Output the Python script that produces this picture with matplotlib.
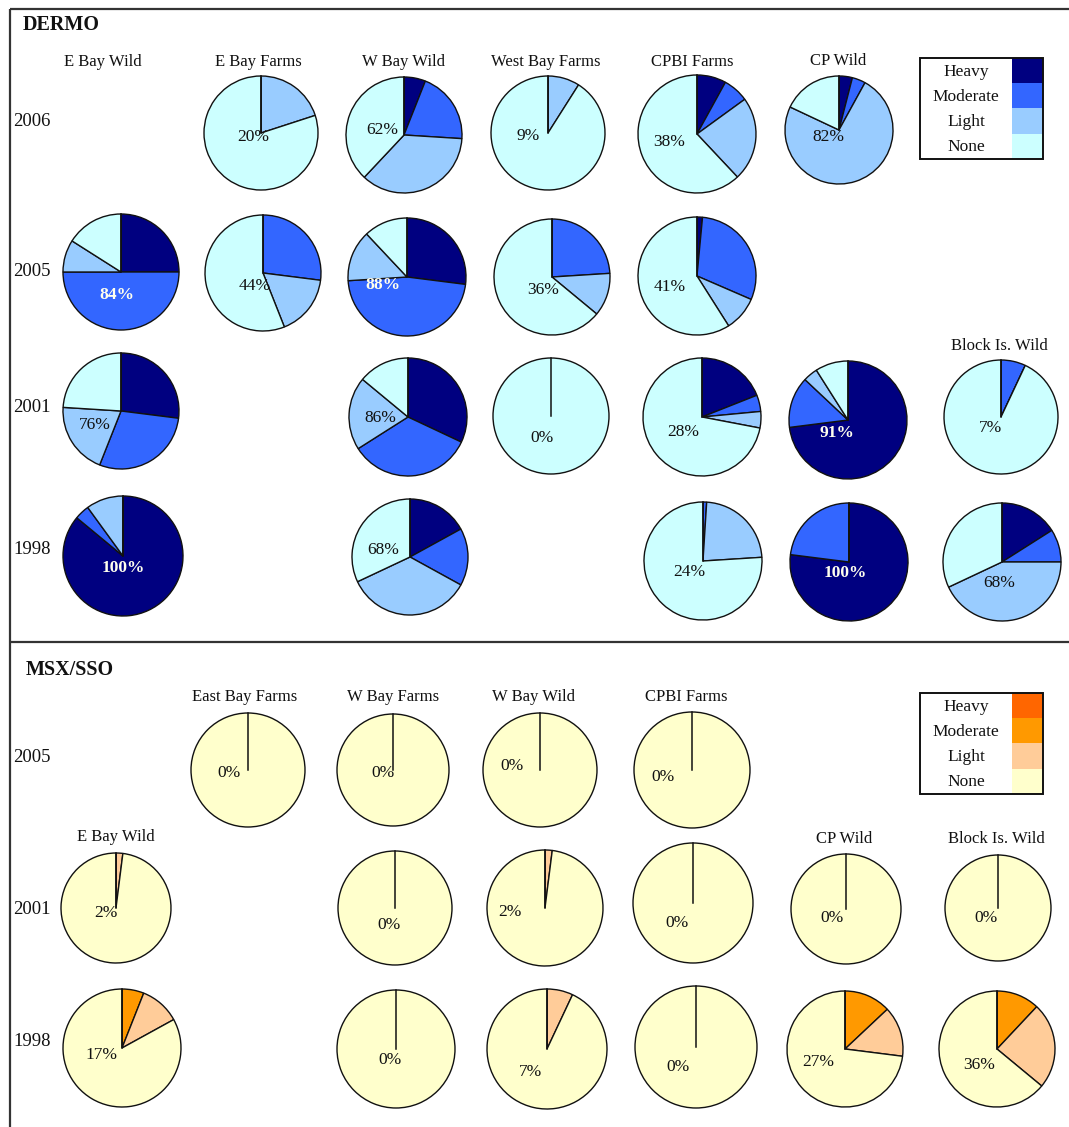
import matplotlib
matplotlib.use("Agg")
import matplotlib.pyplot as plt
from matplotlib.patches import Rectangle

W, H = 1069, 1127
plt.rcParams['font.family'] = ['Liberation Serif', 'DejaVu Serif']

# Infection intensity classes, in the clockwise order of each pie
LEVELS = ["Heavy", "Moderate", "Light", "None"]
DERMO_COLORS = ["#000080", "#3366FF", "#99CCFF", "#CCFFFF"]
MSX_COLORS = ["#FF6600", "#FF9900", "#FFCC99", "#FFFFCC"]

# ---- DERMO: percent of oysters per class [Heavy, Moderate, Light, None] ----
dermo_2006 = {
    "E Bay Farms": [0, 0, 20, 80],
    "W Bay Wild": [6, 20, 36, 38],
    "West Bay Farms": [0, 0, 9, 91],
    "CPBI Farms": [8, 7, 23, 62],
    "CP Wild": [4, 4, 74, 18],
}
dermo_2005 = {
    "E Bay Wild": [25, 50, 9, 16],
    "E Bay Farms": [0, 27, 17, 56],
    "W Bay Wild": [27, 47, 14, 12],
    "West Bay Farms": [0, 24, 12, 64],
    "CPBI Farms": [1.5, 30, 9.5, 59],
}
dermo_2001 = {
    "E Bay Wild": [27, 29, 20, 24],
    "W Bay Wild": [32, 34, 20, 14],
    "West Bay Farms": [0, 0, 0, 100],
    "CPBI Farms": [19, 4.5, 4.5, 72],
    "CP Wild": [73, 14, 4, 9],
    "Block Is. Wild": [0, 7, 0, 93],
}
dermo_1998 = {
    "E Bay Wild": [86, 4, 10, 0],
    "W Bay Wild": [17, 16, 35, 32],
    "CPBI Farms": [0, 1, 23, 76],
    "CP Wild": [77, 23, 0, 0],
    "Block Is. Wild": [16, 9, 43, 32],
}

# ---- MSX/SSO: percent of oysters per class [Heavy, Moderate, Light, None] ----
msx_2005 = {
    "East Bay Farms": [0, 0, 0, 100],
    "W Bay Farms": [0, 0, 0, 100],
    "W Bay Wild": [0, 0, 0, 100],
    "CPBI Farms": [0, 0, 0, 100],
}
msx_2001 = {
    "E Bay Wild": [0, 0, 2, 98],
    "W Bay Farms": [0, 0, 0, 100],
    "W Bay Wild": [0, 0, 2, 98],
    "CPBI Farms": [0, 0, 0, 100],
    "CP Wild": [0, 0, 0, 100],
    "Block Is. Wild": [0, 0, 0, 100],
}
msx_1998 = {
    "E Bay Wild": [0, 6, 11, 83],
    "W Bay Farms": [0, 0, 0, 100],
    "W Bay Wild": [0, 0, 7, 93],
    "CPBI Farms": [0, 0, 0, 100],
    "CP Wild": [0, 13, 14, 73],
    "Block Is. Wild": [0, 12, 24, 64],
}

dermo_years = {"2006": dermo_2006, "2005": dermo_2005, "2001": dermo_2001, "1998": dermo_1998}
msx_years = {"2005": msx_2005, "2001": msx_2001, "1998": msx_1998}

# ---- layout (pixel positions, y measured from the top) ----
# (year, site): (center x, center y, radius, label dx, label dy, label on dark wedge)
dermo_layout = {
    ("2006", "E Bay Farms"): (261, 133, 57, -8, 4, False),
    ("2006", "W Bay Wild"): (404, 135, 58, -22, -5, False),
    ("2006", "West Bay Farms"): (548, 133, 57, -20, 3, False),
    ("2006", "CPBI Farms"): (697, 134, 59, -28, 8, False),
    ("2006", "CP Wild"): (839, 130, 54, -11, 7, False),
    ("2005", "E Bay Wild"): (121, 272, 58, -4, 23, True),
    ("2005", "E Bay Farms"): (263, 273, 58, -8, 13, False),
    ("2005", "W Bay Wild"): (407, 277, 59, -24, 8, True),
    ("2005", "West Bay Farms"): (552, 277, 58, -9, 13, False),
    ("2005", "CPBI Farms"): (697, 276, 59, -27, 11, False),
    ("2001", "E Bay Wild"): (121, 411, 58, -26, 14, False),
    ("2001", "W Bay Wild"): (408, 417, 59, -28, 1, False),
    ("2001", "West Bay Farms"): (551, 416, 58, -9, 22, False),
    ("2001", "CPBI Farms"): (702, 417, 59, -19, 15, False),
    ("2001", "CP Wild"): (848, 420, 59, -11, 13, True),
    ("2001", "Block Is. Wild"): (1001, 417, 57, -10, 11, False),
    ("1998", "E Bay Wild"): (123, 556, 60, 0, 12, True),
    ("1998", "W Bay Wild"): (410, 557, 58, -27, -7, False),
    ("1998", "CPBI Farms"): (703, 561, 59, -14, 11, False),
    ("1998", "CP Wild"): (849, 562, 59, -4, 11, True),
    ("1998", "Block Is. Wild"): (1002, 562, 59, -3, 21, False),
}
msx_layout = {
    ("2005", "East Bay Farms"): (248, 770, 57, -19, 3, False),
    ("2005", "W Bay Farms"): (393, 770, 56, -10, 3, False),
    ("2005", "W Bay Wild"): (540, 770, 57, -28, -4, False),
    ("2005", "CPBI Farms"): (692, 770, 58, -29, 7, False),
    ("2001", "E Bay Wild"): (116, 908, 55, -10, 5, False),
    ("2001", "W Bay Farms"): (395, 908, 57, -6, 17, False),
    ("2001", "W Bay Wild"): (545, 908, 58, -35, 4, False),
    ("2001", "CPBI Farms"): (693, 903, 60, -16, 20, False),
    ("2001", "CP Wild"): (846, 909, 55, -14, 9, False),
    ("2001", "Block Is. Wild"): (998, 908, 53, -12, 10, False),
    ("1998", "E Bay Wild"): (122, 1048, 59, -21, 7, False),
    ("1998", "W Bay Farms"): (396, 1049, 59, -6, 11, False),
    ("1998", "W Bay Wild"): (547, 1049, 60, -16, 23, False),
    ("1998", "CPBI Farms"): (696, 1047, 61, -18, 20, False),
    ("1998", "CP Wild"): (845, 1049, 58, -27, 13, False),
    ("1998", "Block Is. Wild"): (997, 1049, 58, -18, 16, False),
}

dermo_titles = [("E Bay Wild", 103, 62), ("E Bay Farms", 258, 62), ("W Bay Wild", 404, 62),
                ("West Bay Farms", 546, 62), ("CPBI Farms", 692, 62), ("CP Wild", 838, 61),
                ("Block Is. Wild", 999, 346)]
msx_titles = [("East Bay Farms", 245, 697), ("W Bay Farms", 393, 697), ("W Bay Wild", 534, 697),
              ("CPBI Farms", 686, 697), ("E Bay Wild", 116, 837), ("CP Wild", 844, 839),
              ("Block Is. Wild", 996, 839)]
dermo_year_y = {"2006": 122, "2005": 272, "2001": 407, "1998": 550}
msx_year_y = {"2005": 758, "2001": 909, "1998": 1042}

fig = plt.figure(figsize=(W / 100, H / 100), dpi=100)
ax = fig.add_axes([0, 0, 1, 1])

EDGE = "#111111"


def Y(y):
    return H - y


def draw_panel(years, layout, colors, titles, year_y, legend_top):
    for year, sites in years.items():
        for site, values in sites.items():
            cx, cy, r, ldx, ldy, dark = layout[(year, site)]
            ax.pie(values, colors=colors, center=(cx, Y(cy)), radius=r,
                   startangle=90, counterclock=False, frame=True,
                   wedgeprops=dict(edgecolor=EDGE, linewidth=1.0))
            # radial edge at the 12 o'clock start of the pie
            ax.plot([cx, cx], [Y(cy), Y(cy - r)], color=EDGE, linewidth=1.1, zorder=3)
            pct = sum(values[:3])
            ax.text(cx + ldx, Y(cy + ldy), f"{pct:.0f}%", ha="center", va="center",
                    fontsize=12.5, color="#FFFFEE" if dark else "#111111",
                    fontweight="bold" if dark else "normal", zorder=5)
    for name, x, y in titles:
        ax.text(x, Y(y), name, ha="center", va="center", fontsize=12, color="#111111")
    for year, y in year_y.items():
        ax.text(13, Y(y), year, ha="left", va="center", fontsize=13.5, color="#111111")
    # legend box
    x0, x1, sw = 920, 1043, 1012
    row_h = 25.2
    for i, (lvl, col) in enumerate(zip(LEVELS, colors)):
        top = legend_top + i * row_h
        ax.add_patch(Rectangle((sw, Y(top + row_h)), x1 - sw, row_h, facecolor=col,
                               edgecolor="none", zorder=3))
        ax.text((x0 + sw) / 2, Y(top + row_h / 2 + 1), lvl, ha="center", va="center",
                fontsize=12.5, color="#111111", zorder=4)
    ax.add_patch(Rectangle((x0, Y(legend_top + 4 * row_h)), x1 - x0, 4 * row_h,
                           facecolor="none", edgecolor="#111111", linewidth=1.4, zorder=4))


draw_panel(dermo_years, dermo_layout, DERMO_COLORS, dermo_titles, dermo_year_y, 58)
draw_panel(msx_years, msx_layout, MSX_COLORS, msx_titles, msx_year_y, 693)

ax.text(23, Y(25), "DERMO", ha="left", va="center", fontsize=14.5, fontweight="bold",
        color="#111111")
ax.text(26, Y(670), "MSX/SSO", ha="left", va="center", fontsize=14.5, fontweight="bold",
        color="#111111")

# frame lines
line_kw = dict(color="#333333", linewidth=1.6, solid_capstyle="butt")
ax.plot([9.5, 9.5], [Y(8.5), Y(H)], **line_kw)
ax.plot([9.5, W], [Y(8.5), Y(8.5)], **line_kw)
ax.plot([9.5, W], [Y(642), Y(642)], **line_kw)

ax.set_xlim(0, W)
ax.set_ylim(0, H)
ax.set_aspect("equal")
ax.axis("off")
fig.savefig("out.png", dpi=100, facecolor="white")
